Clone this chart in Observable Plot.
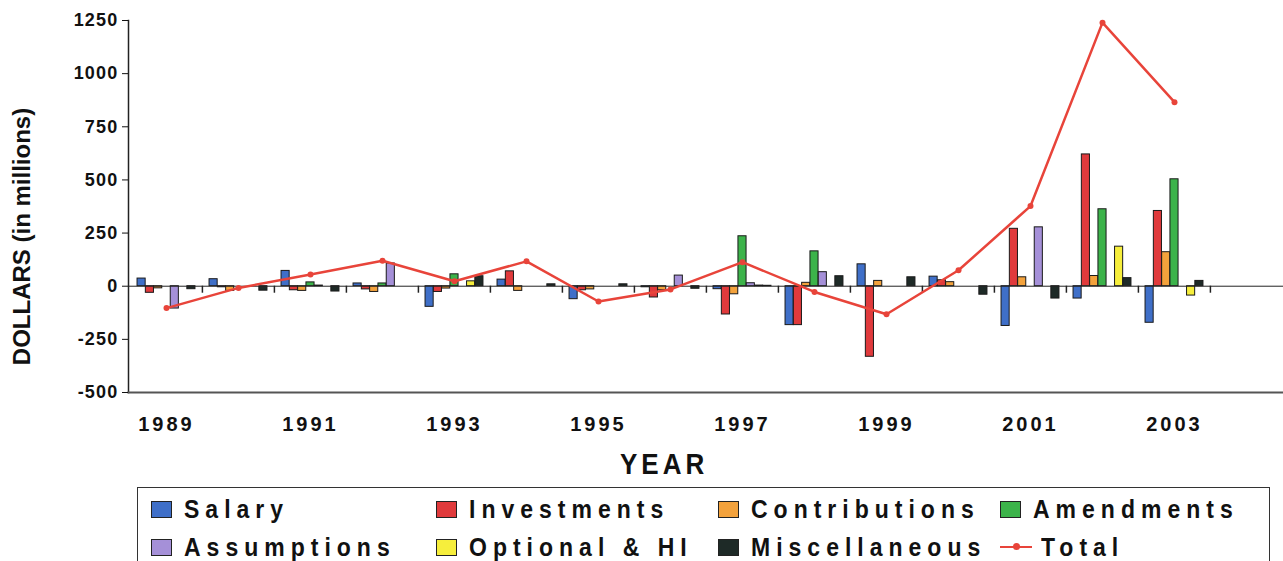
<!DOCTYPE html>
<html>
<head>
<meta charset="utf-8">
<script src="https://cdn.jsdelivr.net/npm/d3@7"></script>
<script src="https://cdn.jsdelivr.net/npm/@observablehq/plot@0.6"></script>
<style>
  body { margin: 0; background: #fff; }
  #wrap { position: relative; width: 1283px; height: 561px; overflow: hidden; background: #fff; font-family: "Liberation Sans", Arial, sans-serif; font-weight: bold; }
  #chart { position: absolute; left: 0; top: 0; }
  #chart svg { display: block; }
  g[aria-label="y-axis tick label"] text { letter-spacing: 1.2px; }
  g[aria-label="x-axis tick label"] text { letter-spacing: 3px; }
  #xlabel { position: absolute; left: 620px; top: 447px; font-size: 26px; letter-spacing: 4px; color: #111; line-height: 30px; transform: scale(1, 1.12); transform-origin: left top; }
  #legend { position: absolute; left: 137px; top: 487px; width: 1133px; height: 90px; border: 1.5px solid #333; box-sizing: border-box; }
  .item { position: absolute; display: flex; align-items: center; height: 30px; color: #111; white-space: nowrap; }
  .txt { font-size: 23px; letter-spacing: 6px; display: inline-block; transform: scale(1, 1.15); }
  .sw { width: 19px; height: 15px; border: 1.5px solid #222; margin-right: 12px; flex: none; }
  .ln { position: relative; width: 32px; height: 2.5px; background: #e8443a; margin-right: 9px; flex: none; }
  .ln::after { content: ""; position: absolute; left: 13px; top: -2.5px; width: 7px; height: 7px; border-radius: 50%; background: #e8443a; }
</style>
</head>
<body>
<div id="wrap">
  <div id="chart"></div>
  <div id="xlabel">YEAR</div>
  <div id="legend"></div>
</div>
<script>
// ---- Data (values in millions of dollars) ----
const years = [1989, 1990, 1991, 1992, 1993, 1994, 1995, 1996, 1997, 1998, 1999, 2000, 2001, 2002, 2003, 2004];
const dataYears = [1989, 1990, 1991, 1992, 1993, 1994, 1995, 1996, 1997, 1998, 1999, 2000, 2001, 2002, 2003];
const xTickYears = [1989, 1991, 1993, 1995, 1997, 1999, 2001, 2003];
const yTicks = [-500, -250, 0, 250, 500, 750, 1000, 1250];

const seriesNames = ["Salary", "Investments", "Contributions", "Amendments", "Assumptions", "Optional & HI", "Miscellaneous"];
const seriesColors = ["#3f6fc8", "#e03a3c", "#f3a23c", "#3cb34a", "#a590d8", "#f6ee3c", "#1e2a27"];

const salary        = [36, 33, 72, 13, -97, 31, -61, -5, -14, -183, 103, 45, -187, -58, -172];
const investments   = [-31, -5, -19, -15, -27, 70, -19, -53, -133, -183, -332, 28, 270, 620, 354];
const contributions = [-10, -22, -22, -27, -11, -22, -15, -19, -38, 16, 25, 19, 42, 48, 160];
const amendments    = [0, 0, 18, 13, 56, 0, 0, 0, 235, 164, 0, 0, 0, 362, 503];
const assumptions   = [-105, 0, 3, 107, 0, 0, 0, 50, 14, 66, 0, 0, 277, 0, 0];
const optionalHI    = [0, 0, 0, 0, 23, 0, 0, 0, 3, 0, 0, 0, 0, 186, -44];
const miscellaneous = [-14, -21, -25, 0, 47, 9, 9, -12, 2, 47, 42, -40, -58, 38, 25];
const total         = [-103, -8, 55, 120, 23, 117, -72, -15, 113, -27, -132, 75, 377, 1240, 866];

const totalName = "Total";
const totalColor = "#e8443a";
const yLabel = "DOLLARS (in millions)";

// ---- Layout ----
const W = 1283, ML = 128, MR = 0, MT = 20, MB = 48, H = 440;
const bw = (W - ML - MR) / years.length;
const barW = 8.3;
const groupOff = (bw - seriesNames.length * barW) / 2;

const seriesValues = [salary, investments, contributions, amendments, assumptions, optionalHI, miscellaneous];

const barMarks = seriesValues.map((vals, i) => {
  const rows = dataYears.map((y, j) => ({year: y, value: vals[j]})).filter(d => d.value !== 0);
  return Plot.barY(rows, {
    x: "year", y: "value",
    fill: seriesColors[i], stroke: "#1a1a1a", strokeWidth: 1,
    insetLeft: groupOff + i * barW,
    insetRight: bw - groupOff - (i + 1) * barW
  });
});

const totalRows = dataYears.map((y, j) => ({year: y, value: total[j]}));

const chart = Plot.plot({
  width: W, height: H,
  marginLeft: ML, marginRight: MR, marginTop: MT, marginBottom: MB,
  x: {type: "band", domain: years, padding: 0},
  y: {domain: [-500, 1250]},
  style: {fontFamily: "'Liberation Sans', Arial, sans-serif", fontWeight: "bold", color: "#111", background: "transparent"},
  marks: [
    ...barMarks,
    Plot.ruleY([0], {stroke: "#222", strokeWidth: 1}),
    Plot.ruleX(years.slice(1), {x: d => d, y1: 0, y2: 0, insetBottom: -7, dx: -bw / 2, stroke: "#222", strokeWidth: 1.5}),
    Plot.line(totalRows, {x: "year", y: "value", stroke: totalColor, strokeWidth: 2.5}),
    Plot.dot(totalRows, {x: "year", y: "value", fill: totalColor, r: 3}),
    Plot.frame({anchor: "left", stroke: "#222", strokeWidth: 1.5}),
    Plot.frame({anchor: "bottom", stroke: "#555", strokeWidth: 2}),
    Plot.axisY({ticks: yTicks, tickSize: 6, tickPadding: 4, fontSize: 18, tickFormat: d => String(d), label: null}),
    Plot.axisX({ticks: xTickYears, tickSize: 0, tickPadding: 24, fontSize: 20, tickFormat: d => String(d), label: null}),
    Plot.text([yLabel], {frameAnchor: "left", rotate: -90, dx: -106, dy: 30, textAnchor: "middle", fontSize: 24, fontWeight: "bold", fill: "#111"})
  ]
});
document.getElementById("chart").appendChild(chart);

// ---- Legend ----
const legendItems = [
  {name: seriesNames[0], color: seriesColors[0]},
  {name: seriesNames[1], color: seriesColors[1]},
  {name: seriesNames[2], color: seriesColors[2]},
  {name: seriesNames[3], color: seriesColors[3]},
  {name: seriesNames[4], color: seriesColors[4]},
  {name: seriesNames[5], color: seriesColors[5]},
  {name: seriesNames[6], color: seriesColors[6]},
  {name: totalName, color: totalColor, line: true}
];
const colLeft = [13, 298, 580, 862];
const rowTop = [6, 44];
const legend = document.getElementById("legend");
legendItems.forEach((it, k) => {
  const d = document.createElement("div");
  d.className = "item";
  d.style.left = colLeft[k % 4] + "px";
  d.style.top = rowTop[Math.floor(k / 4)] + "px";
  const s = document.createElement("span");
  if (it.line) { s.className = "ln"; } else { s.className = "sw"; s.style.background = it.color; }
  d.appendChild(s);
  const t = document.createElement("span");
  t.className = "txt";
  t.textContent = it.name;
  d.appendChild(t);
  legend.appendChild(d);
});
</script>
</body>
</html>
